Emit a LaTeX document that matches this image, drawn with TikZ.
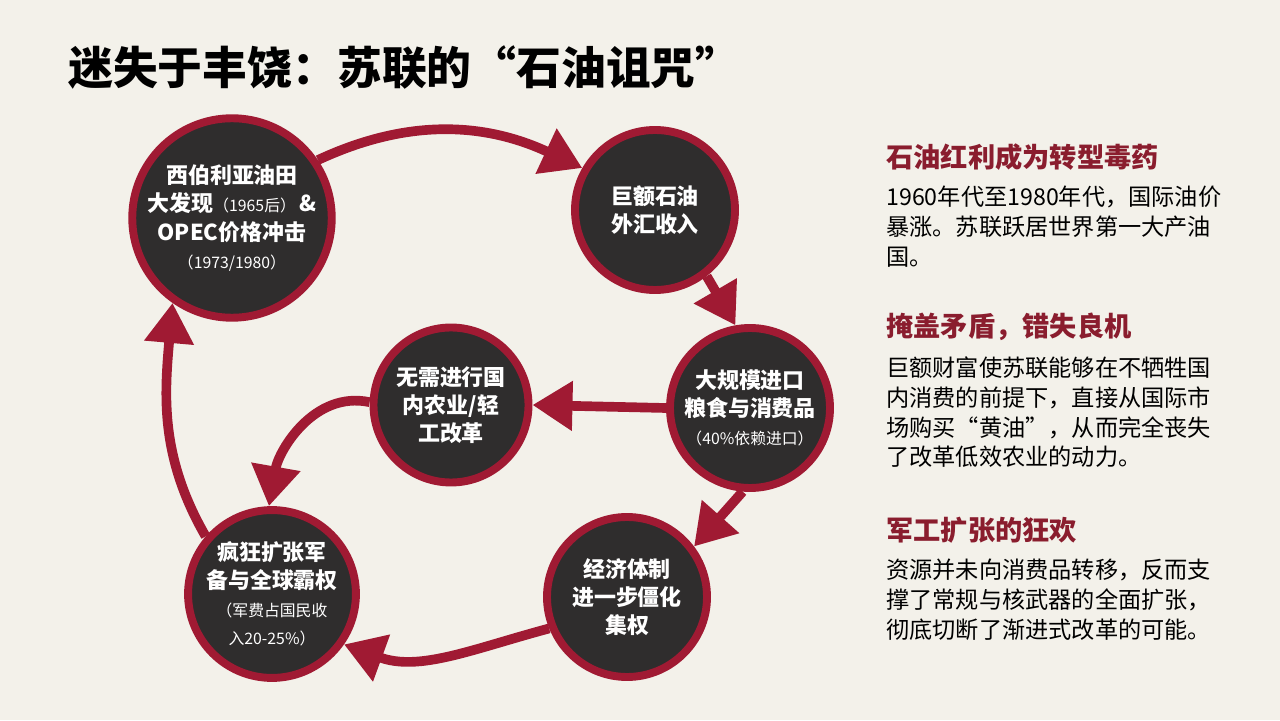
\documentclass[tikz,border=0pt]{standalone}
\usepackage{fontspec}
\setmainfont{Noto Sans CJK SC}
\usetikzlibrary{positioning, arrows.meta}
\definecolor{paper}{HTML}{F3F1EA}
\definecolor{crimson}{HTML}{A01A33}
\definecolor{wine}{HTML}{8A1D2E}
\definecolor{coal}{HTML}{2F2D2D}
\newcommand{\aside}[1]{{\mdseries\fontsize{9}{11}\selectfont #1}}

\begin{document}
\begin{tikzpicture}[
    stage/.style={circle, draw=crimson, line width=4.5pt, fill=coal, text=white, align=center, inner sep=0pt, font=\fontsize{12.5}{16}\selectfont\bfseries},
    flow/.style={-{Triangle[length=0.8cm, width=0.95cm]}, line width=5.5pt, draw=crimson},
    head/.style={anchor=west, inner sep=0pt, text=wine, font=\fontsize{15.5}{19}\selectfont\bfseries},
    note/.style={align=left, inner sep=0pt, font=\fontsize{13.2}{17}\selectfont},
    every node/.style={font=\small}
]
\fill[paper] (0,0) rectangle (25.6,14.4);

% Title
\node[anchor=west, inner sep=0pt, font=\fontsize{25.5}{30}\selectfont\bfseries] (title) at (1.36,13.04) {迷失于丰饶：苏联的“石油诅咒”};

% Cycle stages
\node[stage, minimum size=3.64cm] (siberia) at (4.64,10.04) {西伯利亚油田\\大发现\aside{（1965后）}\,\&\\OPEC价格冲击\\\aside{（1973/1980）}};
\node[stage, minimum size=3.2cm] (income) at (13.1,10.2) {巨额石油\\外汇收入};
\node[stage, minimum size=3.2cm] (imports) at (15.0,6.24) {大规模进口\\粮食与消费品\\\aside{（40\%依赖进口）}};
\node[stage, minimum size=3.1cm] (noreform) at (9.02,6.3) {无需进行国\\内农业/轻\\工改革};
\node[stage, minimum size=3.2cm] (military) at (5.44,2.52) {疯狂扩张军\\备与全球霸权\\\aside{（军费占国民收}\\\aside{入20-25\%）}};
\node[stage, minimum size=3.2cm] (rigid) at (12.54,2.46) {经济体制\\进一步僵化\\集权};

% Arrows
\draw[flow] (siberia.34) to[out=25, in=155] (income.150);
\draw[flow] (income.-52) -- (imports.100);
\draw[flow] (imports.180) -- (noreform.0);
\draw[flow] (noreform.178) to[out=168, in=80] (military.92);
\draw[flow] (imports.-95) -- (rigid.37);
\draw[flow] (rigid.202) to[out=195, in=-20] (military.-35);
\draw[flow] (military.139) to[out=120, in=265] (siberia.235);

% Side notes
\node[head] (h1) at (17.72,11.26) {石油红利成为转型毒药};
\node[note, below right=0.3cm and 0cm of h1.south west] (b1) {1960年代至1980年代，国际油价\\暴涨。苏联跃居世界第一大产油\\国。};

\node[head] (h2) at (17.72,7.86) {掩盖矛盾，错失良机};
\node[note, below right=0.3cm and 0cm of h2.south west] (b2) {巨额财富使苏联能够在不牺牲国\\内消费的前提下，直接从国际市\\场购买“黄油”，从而完全丧失\\了改革低效农业的动力。};

\node[head] (h3) at (17.72,3.8) {军工扩张的狂欢};
\node[note, below right=0.3cm and 0cm of h3.south west] (b3) {资源并未向消费品转移，反而支\\撑了常规与核武器的全面扩张，\\彻底切断了渐进式改革的可能。};

\end{tikzpicture}
\end{document}
